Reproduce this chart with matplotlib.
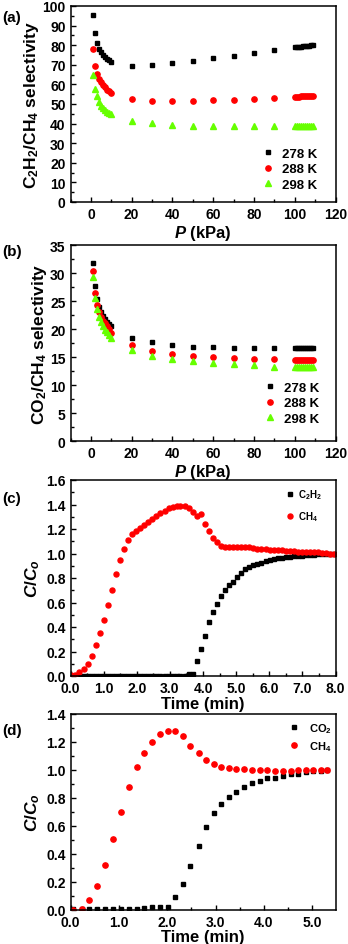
import numpy as np
import matplotlib
matplotlib.use("Agg")
import matplotlib.pyplot as plt
from matplotlib.ticker import MultipleLocator, FormatStrFormatter

plt.rcParams['font.family'] = ['Liberation Sans', 'DejaVu Sans']
plt.rcParams['font.weight'] = 'bold'
plt.rcParams['mathtext.fontset'] = 'custom'
plt.rcParams['mathtext.rm'] = 'Liberation Sans:bold'
plt.rcParams['mathtext.bf'] = 'Liberation Sans:bold'
plt.rcParams['mathtext.it'] = 'Liberation Sans:bold:italic'
plt.rcParams['mathtext.default'] = 'rm'

# ---------------- data ----------------
P = [1, 2, 3, 4, 5, 6, 7, 8, 9, 10, 20, 30, 40, 50, 60, 70, 80, 90,
     100, 101, 102, 103, 104, 105, 106, 107, 108, 109]

a_278 = [95.6, 86.0, 81.3, 78.0, 76.4, 75.2, 74.1, 73.0, 72.3, 71.6, 69.6, 69.7, 70.9, 72.1, 73.3, 74.5, 76.0, 77.6,
         78.9, 79.0, 79.1, 79.3, 79.4, 79.5, 79.7, 79.8, 79.9, 80.0]
a_288 = [78.0, 69.6, 65.3, 62.8, 61.0, 59.7, 58.5, 57.3, 56.5, 55.7, 52.6, 51.5, 51.4, 51.5, 51.9, 52.2, 52.6, 52.9,
         53.7, 53.8, 53.8, 53.9, 53.9, 54.0, 54.0, 54.1, 54.1, 54.2]
a_298 = [64.8, 57.7, 53.9, 51.2, 49.1, 47.8, 46.8, 46.0, 45.4, 44.7, 41.5, 40.1, 39.5, 38.9, 38.8, 38.8, 38.8, 38.9,
         38.9, 38.9, 38.9, 38.9, 39.0, 39.0, 39.0, 39.0, 39.0, 39.0]

b_278 = [31.7, 27.6, 25.4, 24.0, 23.1, 22.4, 21.8, 21.3, 20.9, 20.5, 18.4, 17.6, 17.1, 16.8, 16.7, 16.6, 16.6, 16.6,
         16.6, 16.6, 16.6, 16.6, 16.6, 16.6, 16.6, 16.6, 16.6, 16.6]
b_288 = [30.4, 26.4, 24.3, 23.0, 22.1, 21.5, 21.0, 20.5, 20.0, 19.3, 17.2, 16.1, 15.6, 15.2, 15.0, 14.8, 14.7, 14.6,
         14.5, 14.5, 14.5, 14.5, 14.5, 14.5, 14.5, 14.5, 14.5, 14.5]
b_298 = [29.3, 25.5, 23.5, 22.1, 21.2, 20.5, 19.9, 19.4, 18.9, 18.4, 16.3, 15.2, 14.6, 14.2, 13.9, 13.7, 13.5, 13.3,
         13.2, 13.2, 13.2, 13.2, 13.2, 13.2, 13.2, 13.2, 13.2, 13.2]

temps = ['278 K', '288 K', '298 K']

t_c = [0.03, 0.15, 0.27, 0.40, 0.52, 0.64, 0.76, 0.88, 1.01, 1.13, 1.25, 1.37, 1.49, 1.62, 1.74, 1.86,
       1.98, 2.10, 2.23, 2.35, 2.47, 2.59, 2.71, 2.84, 2.96, 3.08, 3.20, 3.32, 3.45, 3.57, 3.69, 3.81,
       3.93, 4.06, 4.18, 4.30, 4.42, 4.54, 4.67, 4.79, 4.91, 5.03, 5.15, 5.28, 5.40, 5.52, 5.64, 5.76,
       5.89, 6.01, 6.13, 6.25, 6.37, 6.50, 6.62, 6.74, 6.86, 6.98, 7.11, 7.23, 7.35, 7.47, 7.59, 7.72,
       7.84, 7.96]
c_ch4 = [0.005, 0.01, 0.03, 0.06, 0.10, 0.16, 0.25, 0.35, 0.46, 0.58, 0.70, 0.83, 0.95, 1.04, 1.11, 1.16,
         1.18, 1.21, 1.23, 1.26, 1.28, 1.31, 1.33, 1.35, 1.37, 1.38, 1.39, 1.39, 1.385, 1.37, 1.34, 1.31,
         1.32, 1.24, 1.18, 1.13, 1.09, 1.065, 1.055, 1.05, 1.05, 1.05, 1.05, 1.05, 1.05, 1.045, 1.04, 1.04,
         1.035, 1.03, 1.03, 1.025, 1.025, 1.02, 1.02, 1.02, 1.015, 1.015, 1.01, 1.01, 1.01, 1.01, 1.005, 1.005,
         1.0, 1.0]
c_c2h2 = [np.nan, 0.0, 0.0, 0.0, 0.0, 0.0, 0.0, 0.0, 0.0, 0.0, 0.0, 0.0, 0.0, 0.0, 0.0, 0.0,
          0.0, 0.0, 0.0, 0.0, 0.0, 0.0, 0.0, 0.0, 0.0, 0.0, 0.0, 0.0, 0.0, 0.02, 0.02, 0.12,
          0.22, 0.33, 0.44, 0.52, 0.59, 0.65, 0.70, 0.74, 0.77, 0.81, 0.84, 0.87, 0.89, 0.905, 0.915, 0.925,
          0.935, 0.95, 0.955, 0.96, 0.965, 0.97, 0.973, 0.976, 0.979, 0.982, 0.985, 0.988, 0.99, 0.992, 0.994, 0.996,
          0.998, 1.0]

t_d = [0.055, 0.23, 0.39, 0.55, 0.72, 0.885, 1.04, 1.21, 1.37, 1.53, 1.69, 1.85, 2.01, 2.17, 2.32, 2.48,
       2.65, 2.80, 2.96, 3.12, 3.28, 3.43, 3.59, 3.75, 3.91, 4.07, 4.23, 4.39, 4.55, 4.71, 4.86, 5.02,
       5.17, 5.31]
d_ch4 = [0.0, 0.01, 0.07, 0.17, 0.32, 0.505, 0.70, 0.876, 1.02, 1.125, 1.20, 1.255, 1.28, 1.28, 1.24, 1.17,
         1.12, 1.07, 1.045, 1.024, 1.012, 1.01, 1.005, 1.0, 1.0, 1.0, 0.995, 0.995, 0.995, 0.997, 1.0, 1.0,
         1.0, 1.0]
d_co2 = [0.005, 0.005, 0.01, 0.01, 0.01, 0.01, 0.01, 0.01, 0.01, 0.015, 0.02, 0.025, 0.025, 0.09, 0.185, 0.315,
         0.46, 0.59, 0.69, 0.755, 0.81, 0.845, 0.88, 0.905, 0.92, 0.94, 0.945, 0.96, 0.97, 0.975, 0.985, 0.99,
         0.995, 1.0]

BLACK = '#000000'
RED = '#FF0000'
GREEN = '#66FF00'

W, H = 348, 945
fig = plt.figure(figsize=(W / 100, H / 100), dpi=100)
LEFT, RIGHT = 70.5, 335.5


def make_axes(top_px, bottom_px):
    return fig.add_axes([LEFT / W, 1 - bottom_px / H, (RIGHT - LEFT) / W, (bottom_px - top_px) / H])


def style(ax, xmaj, xmin, ymaj, ymin):
    ax.xaxis.set_major_locator(MultipleLocator(xmaj))
    ax.xaxis.set_minor_locator(MultipleLocator(xmin))
    ax.yaxis.set_major_locator(MultipleLocator(ymaj))
    ax.yaxis.set_minor_locator(MultipleLocator(ymin))
    ax.tick_params(which='both', direction='in', top=False, right=False, labelsize=10, width=1.0)
    ax.tick_params(axis='x', pad=3.5)
    ax.tick_params(axis='y', pad=3.5)
    ax.tick_params(which='major', length=3.5)
    ax.tick_params(which='minor', length=2)
    for s in ax.spines.values():
        s.set_linewidth(1.1)
    for lab in ax.get_xticklabels() + ax.get_yticklabels():
        lab.set_fontweight('bold')


def fx(px):
    return (px - LEFT) / (RIGHT - LEFT)


ms = 3.3

# (a)
ax = make_axes(7, 203)
ax.plot(P, a_278, 's', color=BLACK, ms=ms, label=temps[0])
ax.plot(P, a_288, 'o', color=RED, ms=ms + 0.5, label=temps[1])
ax.plot(P, a_298, '^', color=GREEN, ms=ms + 0.5, label=temps[2])
ax.set_xlim(-10, 120)
ax.set_ylim(0, 100)
style(ax, 20, 10, 10, 5)
ax.set_xlabel(r'$\it{P}$ (kPa)', fontsize=12, fontweight='bold', labelpad=1.5)
ax.set_ylabel(r'C$_2$H$_2$/CH$_4$ selectivity', fontsize=12.5, fontweight='bold', labelpad=1)
ax.legend(loc='lower left', bbox_to_anchor=(fx(261.5), 11 / 196), frameon=False, fontsize=9.5,
          handlelength=1.0, handletextpad=0.55, labelspacing=0.25, borderaxespad=0, borderpad=0, numpoints=1)

# (b)
ax = make_axes(246, 442)
ax.plot(P, b_278, 's', color=BLACK, ms=ms, label=temps[0])
ax.plot(P, b_288, 'o', color=RED, ms=ms + 0.5, label=temps[1])
ax.plot(P, b_298, '^', color=GREEN, ms=ms + 0.5, label=temps[2])
ax.set_xlim(-10, 120)
ax.set_ylim(0, 35)
style(ax, 20, 10, 5, 2.5)
ax.set_xlabel(r'$\it{P}$ (kPa)', fontsize=12, fontweight='bold', labelpad=1.5)
ax.set_ylabel(r'CO$_2$/CH$_4$ selectivity', fontsize=12.5, fontweight='bold', labelpad=1)
ax.legend(loc='lower left', bbox_to_anchor=(fx(263.5), 16 / 196), frameon=False, fontsize=9.5,
          handlelength=1.0, handletextpad=0.55, labelspacing=0.25, borderaxespad=0, borderpad=0, numpoints=1)

# (c)
ax = make_axes(481, 677)
ax.plot(t_c, c_c2h2, 's', color=BLACK, ms=3.0, label=r'C$_2$H$_2$')
ax.plot(t_c, c_ch4, 'o', color=RED, ms=3.6, label=r'CH$_4$')
ax.set_xlim(0, 8)
ax.set_ylim(0, 1.6)
style(ax, 1, 0.5, 0.2, 0.1)
ax.xaxis.set_major_formatter(FormatStrFormatter('%.1f'))
ax.yaxis.set_major_formatter(FormatStrFormatter('%.1f'))
ax.set_xlabel('Time (min)', fontsize=12, fontweight='bold', labelpad=1)
ax.set_ylabel(r'$\it{C/C}_{o}$', fontsize=12.5, fontweight='bold', labelpad=3)
ax.legend(loc='upper left', bbox_to_anchor=(fx(285), 1 - 7 / 196), frameon=False, fontsize=7,
          handlelength=1.0, handletextpad=0.35, labelspacing=0.9, borderaxespad=0, borderpad=0, numpoints=1)

# (d)
ax = make_axes(715, 911)
ax.plot(t_d, d_co2, 's', color=BLACK, ms=3.3, label=r'CO$_2$')
ax.plot(t_d, d_ch4, 'o', color=RED, ms=3.8, label=r'CH$_4$')
ax.set_xlim(0, 5.48)
ax.set_ylim(0, 1.4)
style(ax, 1, 0.5, 0.2, 0.1)
ax.xaxis.set_major_formatter(FormatStrFormatter('%.1f'))
ax.yaxis.set_major_formatter(FormatStrFormatter('%.1f'))
ax.set_xlabel('Time (min)', fontsize=12, fontweight='bold', labelpad=0)
ax.set_ylabel(r'$\it{C/C}_{o}$', fontsize=12.5, fontweight='bold', labelpad=3)
ax.legend(loc='upper left', bbox_to_anchor=(fx(288), 1 - 7 / 196), frameon=False, fontsize=8,
          handlelength=1.0, handletextpad=0.9, labelspacing=0.4, borderaxespad=0, borderpad=0, numpoints=1)

# panel letters
for lab, ypx in [('(a)', 18), ('(b)', 252), ('(c)', 499), ('(d)', 731)]:
    fig.text(2 / W, 1 - ypx / H, lab, fontsize=11, fontweight='bold', ha='left', va='center')

fig.savefig('out.png', dpi=100)
